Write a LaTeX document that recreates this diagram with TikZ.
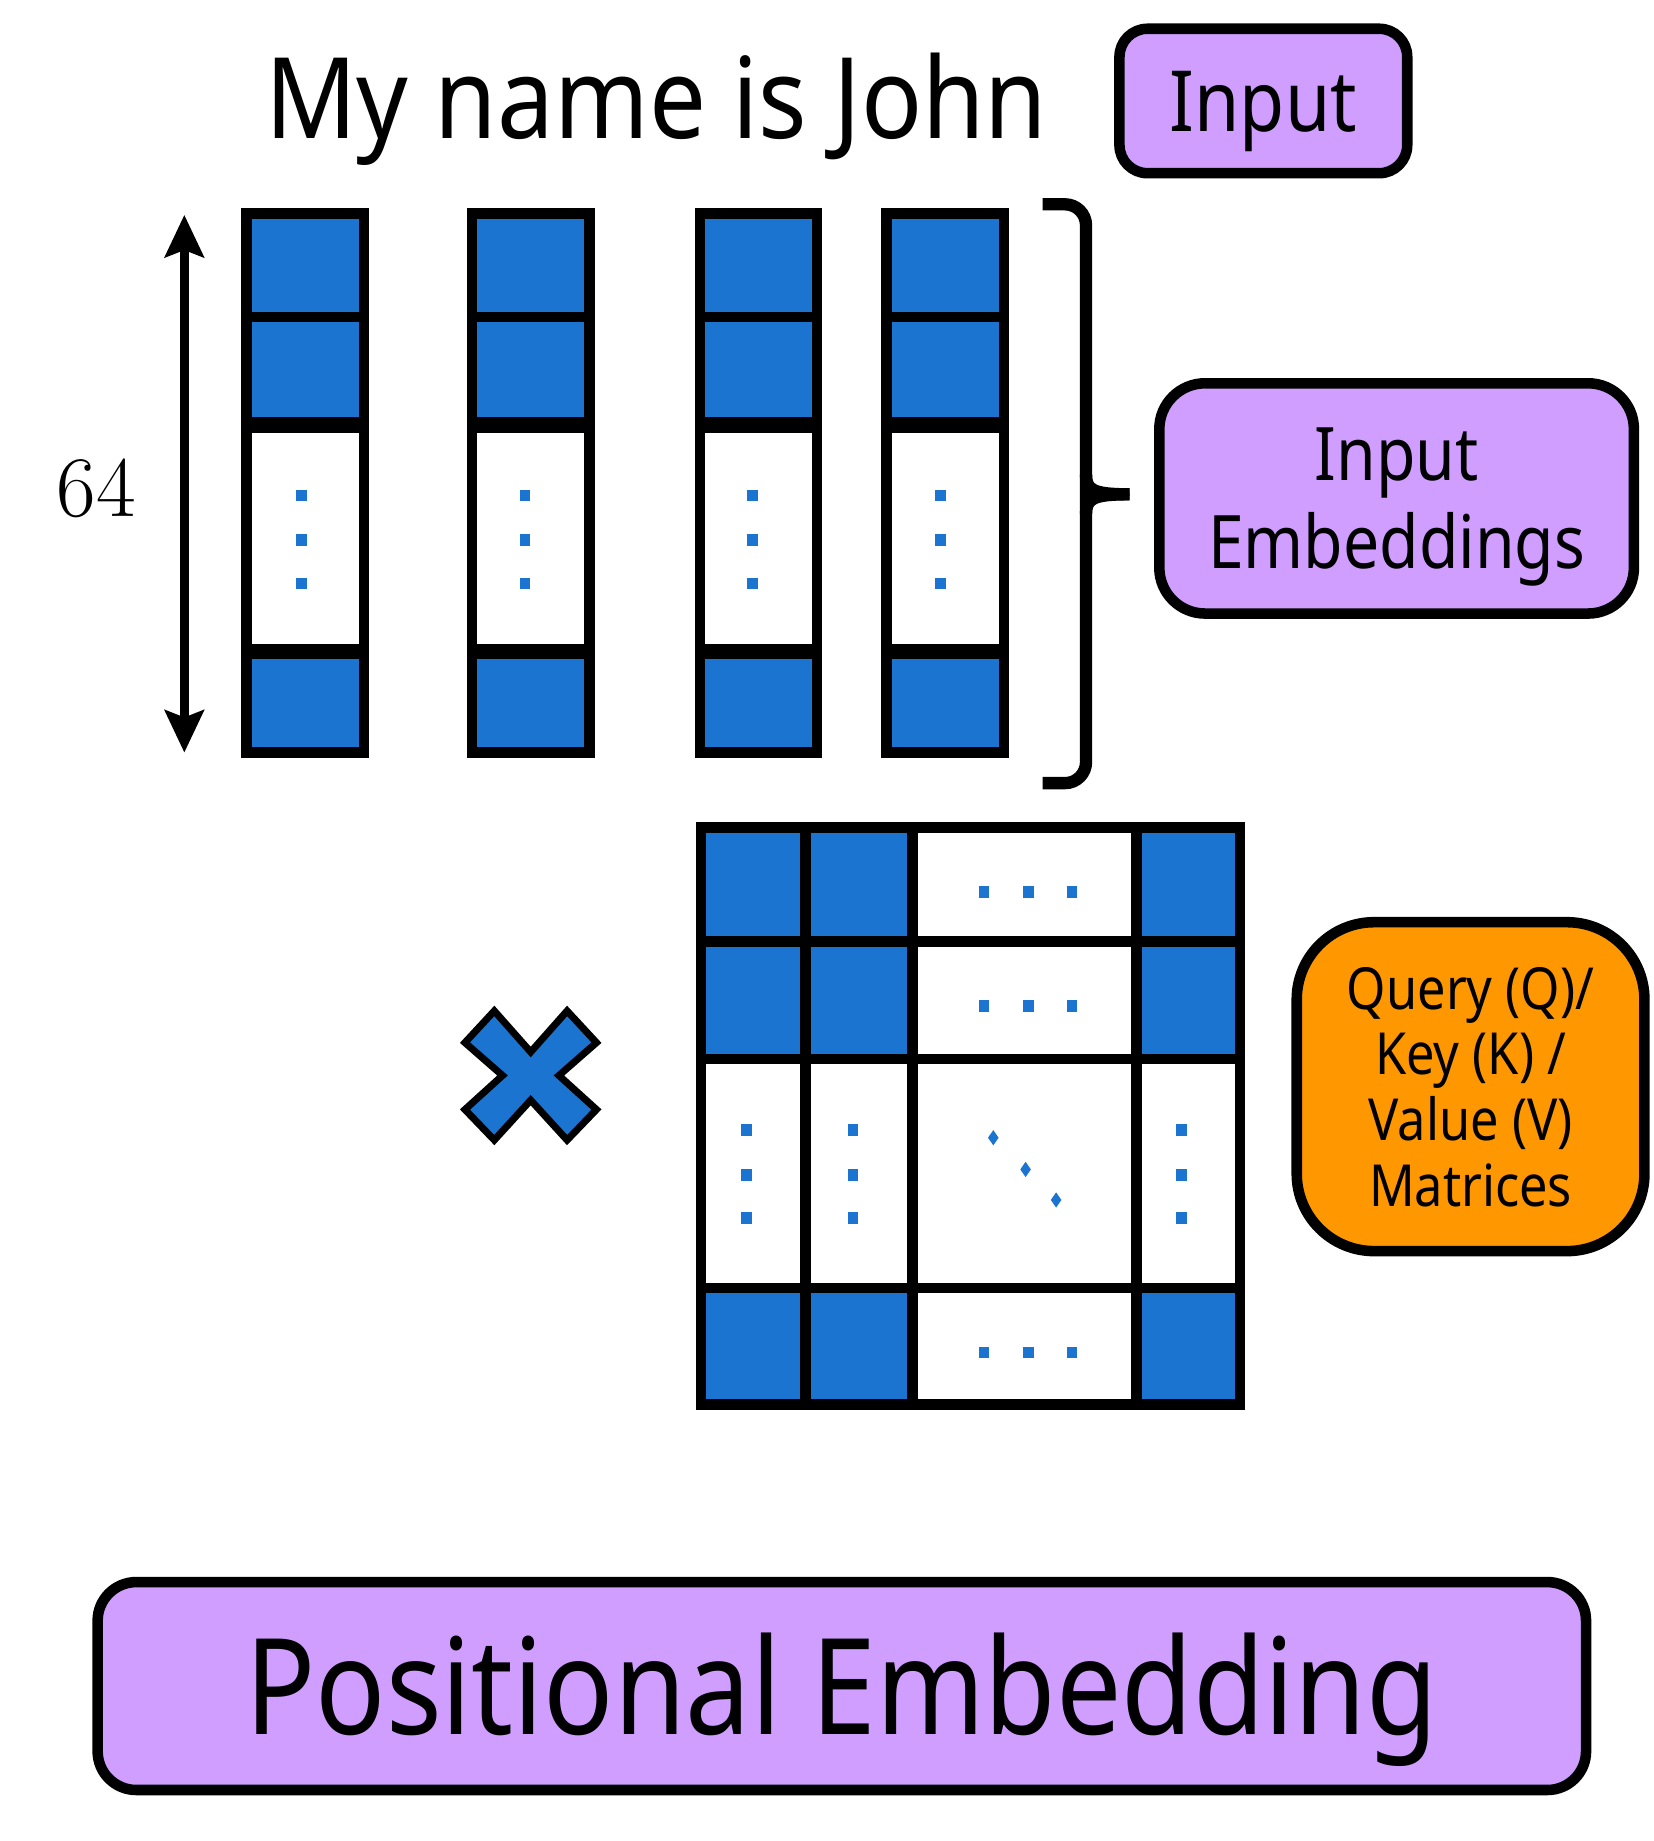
\documentclass[tikz,border=0pt]{standalone}
\usepackage{fontspec}
\newfontfamily\labelfont{Noto Sans}[FakeStretch=0.87]
\newfontfamily\titlefont{Noto Sans}[FakeStretch=0.9]
\usetikzlibrary{arrows.meta}
\definecolor{cellblue}{RGB}{27,117,208}
\definecolor{tagpurple}{RGB}{207,158,255}
\definecolor{tagorange}{RGB}{255,152,0}
\begin{document}
\begin{tikzpicture}[x=0.01174cm, y=-0.01174cm,
  cell/.style={draw, line width=3pt, fill=cellblue},
  blank/.style={draw, line width=3pt, fill=white},
  tag/.style={draw, line width=3pt, fill=tagpurple, inner sep=0pt, align=center}]
  \useasboundingbox (0,0) rectangle (1408,1568);

  \node[anchor=base, font=\titlefont\fontsize{32}{38}\selectfont] (sentence) at (559,118) {My name is John};
  \node[tag, rounded corners=8pt, text depth=0pt, minimum width=2.876cm, minimum height=1.444cm,
    font=\labelfont\fontsize{24}{29}\selectfont] (inputtag) at (1076,86) {Input};

  % the four word vectors
  \foreach \xa/\xb in {210/310, 402/502, 596/696, 755/855} {
    \draw[cell] (\xa,182) rectangle (\xb,270);
    \draw[cell] (\xa,270) rectangle (\xb,360);
    \draw[cell] (\xa,557) rectangle (\xb,641);
    \draw[blank] (\xa,364) rectangle (\xb,553);
  }
  \foreach \x in {257,447,641,801}
    \foreach \y in {422,460,497}
      \fill[cellblue] (\x-4.5,\y-5) rectangle (\x+4.5,\y+5);

  \coordinate (dimtop) at (157,183);
  \coordinate (dimbot) at (157,641);
  \draw [{Stealth[length=12pt,width=11pt,inset=2pt]}-{Stealth[length=12pt,width=11pt,inset=2pt]}, line width=2.5pt] (dimtop) -- (dimbot);
  \node[font=\fontsize{24.5}{29}\selectfont] (dimlabel) at (82,416) {64};

  \draw[line width=3.5pt, rounded corners=6pt] (888,174) -- (925,174) -- (925,667) -- (888,667);
  \coordinate (bracetip) at (962,421);
  \draw[line width=3.5pt] (925,404) .. controls (925,417) and (930,421) .. (bracetip);
  \draw[line width=3.5pt] (925,438) .. controls (925,425) and (930,421) .. (bracetip);
  \node[tag, rounded corners=13pt, minimum width=4.743cm, minimum height=2.301cm,
    font=\labelfont\fontsize{21}{25}\selectfont] (embtag) at (1189.5,424.5) {Input\\\smash{Embeddings}};

  % multiplication sign
  \draw[line width=2pt, fill=cellblue] (421,861) -- (452,896) -- (483,861) -- (508,888) -- (476,916) -- (508,945)
    -- (483,971) -- (452,937) -- (421,971) -- (396,945) -- (428,916) -- (396,888) -- cycle;

  % weight matrix
  \foreach \xa/\xb in {597/686, 686/777, 968/1056} {
    \foreach \ya/\yb in {705/802, 802/902, 1097/1196}
      \draw[cell] (\xa,\ya) rectangle (\xb,\yb);
    \draw[blank] (\xa,902) rectangle (\xb,1097);
  }
  \foreach \ya/\yb in {705/802, 802/902, 1097/1196}
    \draw[blank] (777,\ya) rectangle (968,\yb);
  \draw[blank] (777,902) rectangle (968,1097);
  \foreach \y in {760,857,1152}
    \foreach \x in {838,876,913}
      \fill[cellblue] (\x-4.5,\y-5) rectangle (\x+4.5,\y+5);
  \foreach \x in {636,726.5,1006.5}
    \foreach \y in {962.5,1001,1037.5}
      \fill[cellblue] (\x-4.5,\y-5) rectangle (\x+4.5,\y+5);
  \foreach \x/\y in {846/969, 873.5/996, 899.5/1022}
    \fill[cellblue] (\x,\y-6.5) -- (\x+4.5,\y) -- (\x,\y+6.5) -- (\x-4.5,\y) -- cycle;

  \node[tag, fill=tagorange, rounded corners=22pt, minimum width=3.475cm, minimum height=3.287cm,
    font=\labelfont\fontsize{16.5}{18.7}\selectfont] (qkvtag) at (1252.5,925.5) {Query (Q)/\\Key (K) /\\Value (V)\\\smash{Matrices}};

  \node[tag, rounded corners=11pt, text depth=0pt, minimum width=14.875cm, minimum height=2.078cm,
    font=\labelfont\fontsize{38}{46}\selectfont, text height=27.5pt] (postag) at (717,1436) {Positional Embedding};
\end{tikzpicture}
\end{document}
